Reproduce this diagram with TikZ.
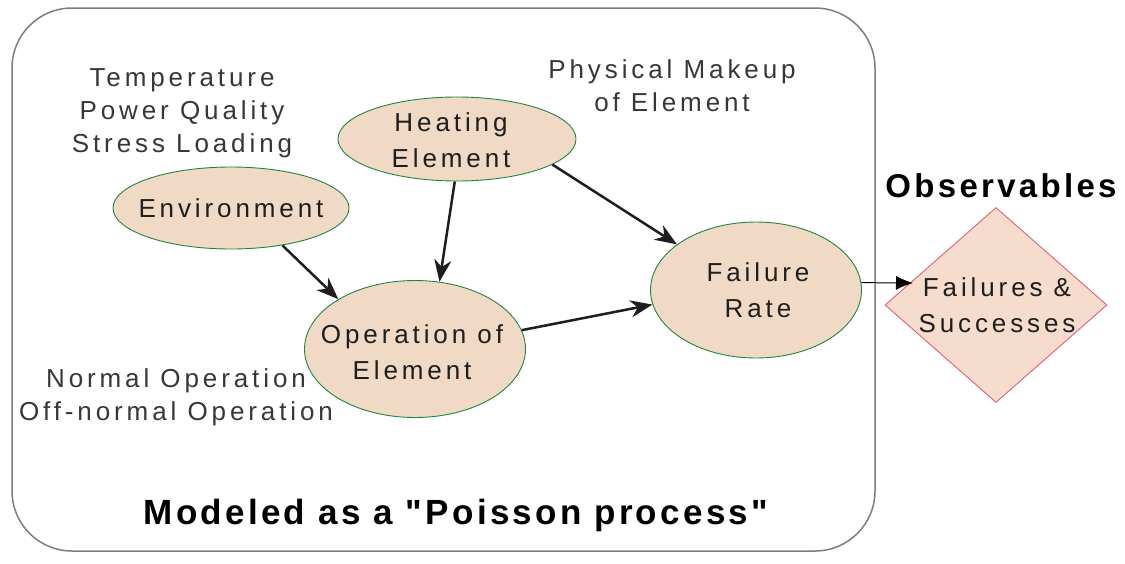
\documentclass[tikz,border=0pt]{standalone}
\usepackage{fontspec}
\setmainfont{Liberation Sans}[LetterSpace=15]
\newfontfamily\titlefont{Liberation Sans}[LetterSpace=9.3]
\newfontfamily\obsfont{Liberation Sans}[LetterSpace=10]
\usetikzlibrary{shapes.geometric,arrows.meta}
\definecolor{nodefill}{RGB}{240,218,198}
\definecolor{diafill}{RGB}{245,220,204}
\definecolor{nodeline}{RGB}{30,135,60}
\definecolor{dialine}{RGB}{228,95,115}
\definecolor{framec}{RGB}{125,125,125}
\definecolor{notec}{RGB}{55,55,55}
\definecolor{inkc}{RGB}{30,30,30}
\tikzset{
  frame/.style={draw=framec, line width=1.5pt, rounded corners=60pt},
  oval/.style={ellipse, draw=nodeline, line width=0.9pt, fill=nodefill, inner sep=0pt},
  obsbox/.style={diamond, draw=dialine, line width=0.9pt, fill=diafill, inner sep=0pt},
  intext/.style={align=center, text=inkc, inner sep=0pt, font=\fontsize{26}{36}\selectfont},
  note/.style={align=center, text=notec, font=\fontsize{26}{33}\selectfont, inner sep=0pt},
  heading/.style={text=black, inner sep=0pt, font=\titlefont\bfseries\fontsize{35}{40}\selectfont},
  obshead/.style={text=black, inner sep=0pt, font=\obsfont\bfseries\fontsize{33}{38}\selectfont},
  link/.style={draw=inkc, line width=2.5pt, -{Stealth[length=22pt,width=17pt,inset=7pt]}},
  thinlink/.style={draw=black, line width=1pt, -{Latex[length=17pt,width=14pt]}}
}
\begin{document}
\begin{tikzpicture}[x=1pt,y=-1pt]
\useasboundingbox (0,0) rectangle (1125,563);
\fill[white] (0,0) rectangle (1125,563);
\draw[frame] (12,8) rectangle (875,551);

\node[oval, minimum width=236pt, minimum height=82pt] (env) at (231,208) {};
\node[intext] (envtext) at (env) {Environment};
\node[oval, minimum width=238pt, minimum height=84pt] (heat) at (457,139) {};
\node[intext] (heattext) at (451,140) {Heating\\Element};
\node[oval, minimum width=221pt, minimum height=137pt] (op) at (415,349) {};
\node[intext] (optext) at (412,352) {Operation of\\Element};
\node[oval, minimum width=211pt, minimum height=136pt] (fail) at (756,290) {};
\node[intext] (failtext) at (758,290) {Failure\\Rate};
\node[obsbox, minimum width=222pt, minimum height=195pt] (obs) at (996,305) {};
\node[intext] (obstext) at (997,305) {Failures \&\\Successes};

\node[note] (envnote) at (182,113) {Temperature\\Power Quality\\Stress Loading};
\node[note] (heatnote) at (672,86) {Physical Makeup\\of Element};
\node[note] (opnote) at (176,397) {Normal Operation\\Off-normal Operation};
\node[obshead] (obstitle) at (1001,186) {Observables};
\node[heading, anchor=base] (model) at (456,524) {Modeled as a "Poisson process"};

\coordinate (obsin) at (913,283);
\draw[link] (env.-36) -- (op.147);
\draw[link] (heat.-93) -- (op.70);
\draw[link] (heat.-15) -- (fail.150);
\draw[link] (op.10) -- (fail.-172);
\draw[thinlink] (fail.4) -- (obsin);
\end{tikzpicture}
\end{document}
